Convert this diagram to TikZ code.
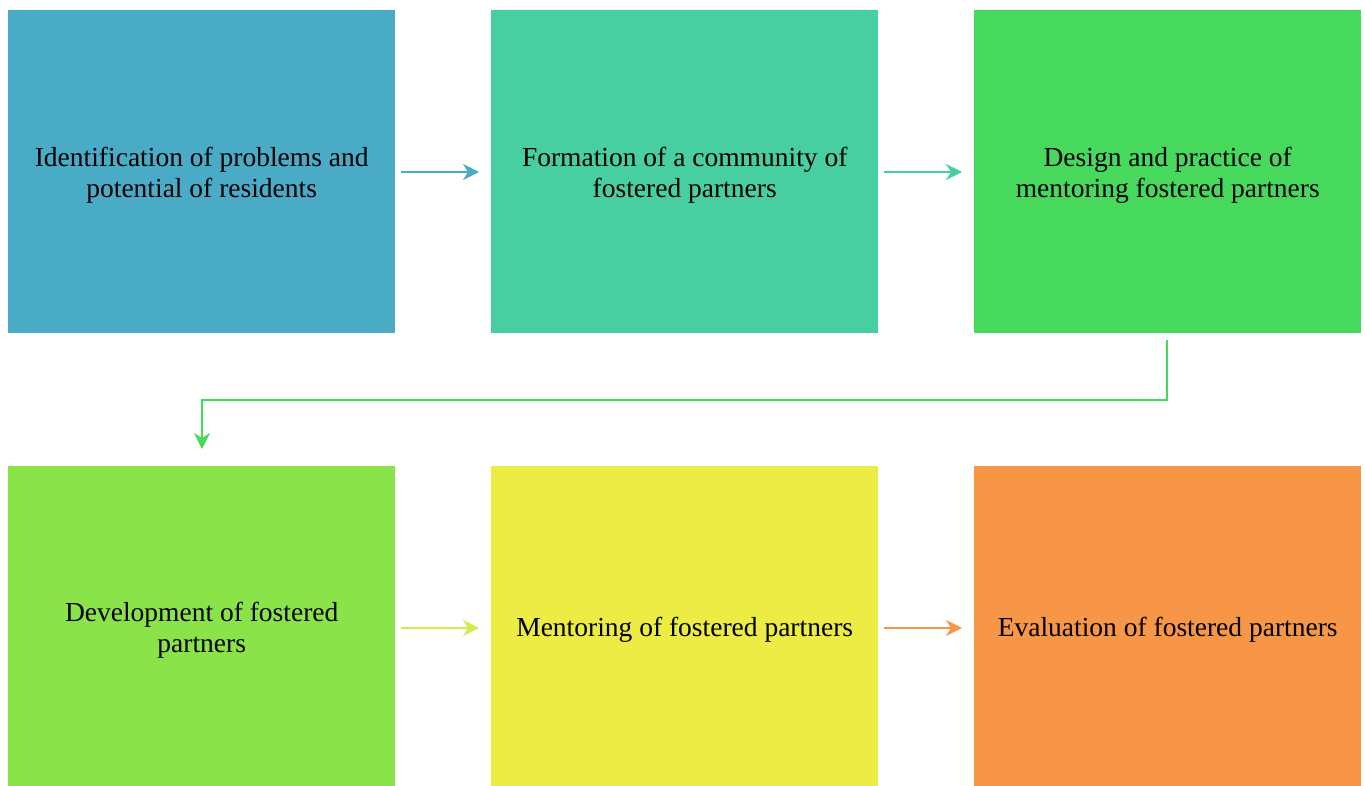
\documentclass[tikz,border=0pt]{standalone}
\usepackage{fontspec}
\setmainfont{Liberation Serif}
\usetikzlibrary{arrows.meta}
\definecolor{cA}{HTML}{4AABC6}
\definecolor{cB}{HTML}{48CFA1}
\definecolor{cC}{HTML}{47D95B}
\definecolor{cD}{HTML}{8BE34A}
\definecolor{cE}{HTML}{ECEC45}
\definecolor{cF}{HTML}{F79646}
\definecolor{cDE}{HTML}{D5EC48}
\begin{document}
\begin{tikzpicture}[x=1pt,y=-1pt,
  box/.style={minimum width=387pt,minimum height=323pt,inner sep=0pt,anchor=north west},
  lbl/.style={inner sep=0pt,align=center,font=\fontsize{27.5}{31}\selectfont},
  conn/.style={line width=2pt,-{Stealth[length=16pt,width=16pt,inset=5pt]}}]
\useasboundingbox (0,0) rectangle (1365,785);
\node[box,fill=cA] (b1) at (8,10) {};
\node[box,fill=cB] (b2) at (491,10) {};
\node[box,fill=cC] (b3) at (974,10) {};
\node[box,fill=cD,minimum height=320pt] (b4) at (8,466) {};
\node[box,fill=cE,minimum height=320pt] (b5) at (491,466) {};
\node[box,fill=cF,minimum height=320pt] (b6) at (974,466) {};
\node[lbl] (t1) at ([yshift=-4pt]b1.center) {Identification of problems and\\ potential of residents};
\node[lbl] (t2) at ([yshift=-4pt]b2.center) {Formation of a community of\\ fostered partners};
\node[lbl] (t3) at ([yshift=-4pt]b3.center) {Design and practice of\\ mentoring fostered partners};
\node[lbl] (t4) at ([yshift=-4pt]b4.center) {Development of fostered\\ partners};
\node[lbl] (t5) at ([yshift=-4pt]b5.center) {Mentoring of fostered partners};
\node[lbl] (t6) at ([yshift=-4pt]b6.center) {Evaluation of fostered partners};
\coordinate (a1s) at (401,172); \coordinate (a1e) at (479,172);
\coordinate (a2s) at (884,172); \coordinate (a2e) at (962,172);
\coordinate (a4s) at (401,628); \coordinate (a4e) at (479,628);
\coordinate (a5s) at (884,628); \coordinate (a5e) at (962,628);
\draw[conn,cA] (a1s) -- (a1e);
\draw[conn,cB] (a2s) -- (a2e);
\draw[conn,cDE] (a4s) -- (a4e);
\draw[conn,cF] (a5s) -- (a5e);
\coordinate (c1) at (1167,340);
\coordinate (c2) at (202,449);
\draw[conn,cC] (c1) -- (1167,400) -- (202,400) -- (c2);
\end{tikzpicture}
\end{document}
